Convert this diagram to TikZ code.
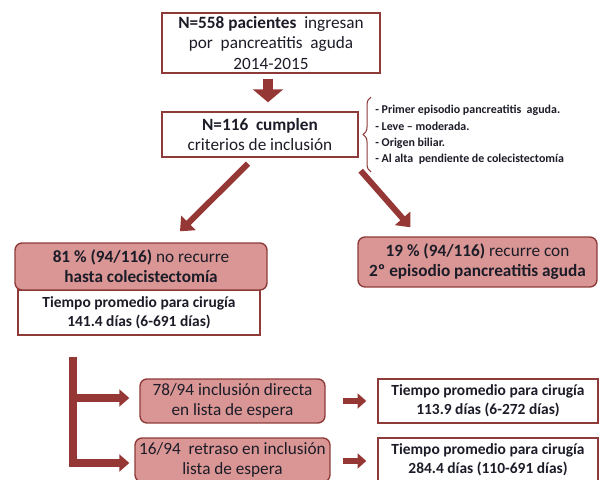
\documentclass[tikz,border=0pt]{standalone}
\usepackage{fontspec}
\setmainfont{Carlito}
\usetikzlibrary{arrows.meta,calc,decorations.pathreplacing}
\definecolor{rojo}{HTML}{953735}
\definecolor{borde}{HTML}{8E3A38}
\definecolor{rosa}{HTML}{D99694}
\definecolor{tinta}{HTML}{1C1C28}

\begin{document}
\begin{tikzpicture}[x=0.02cm, y=-0.02cm, text=tinta, font=\fontsize{9.8}{11.4}\selectfont]
        \tikzstyle{caja}=[draw=borde, line width=0.8pt, fill=white, align=center, inner sep=0pt]
        \tikzstyle{cajarosa}=[caja, fill=rosa, rounded corners=4pt]
        \tikzstyle{tiempo}=[caja, font=\fontsize{8.8}{10.6}\selectfont\bfseries]
        \tikzstyle{flechagruesa}=[rojo, line width=5.7pt, -{Triangle[width=17pt,length=7.4pt]}]
        \tikzstyle{flecha}=[rojo, line width=3.4pt, -{Triangle[width=11.3pt,length=6.8pt]}]
        \tikzstyle{rama}=[rojo, line width=5pt, -{Triangle[width=9.6pt,length=5.7pt]}]
        \tikzstyle{flechita}=[rojo, line width=3.6pt, -{Triangle[width=8.5pt,length=5pt]}]
        \tikzstyle{llave}=[draw=borde, line width=0.6pt, decorate, decoration={brace, amplitude=4.5pt}]

        \useasboundingbox (0,0) rectangle (600,480);

            % Cajas
            \node[caja, minimum width=4.36cm, minimum height=1.2cm] (ingreso) at (271,43)
                {\textbf{N=558 pacientes}\ \ ingresan\\por\ \ pancreatitis\ \ aguda\\2014-2015};
            \node[caja, minimum width=3.92cm, minimum height=0.9cm] (criterios) at (260,134.5)
                {\textbf{N=116\ \ cumplen}\\criterios de inclusión};
            \node[anchor=west, align=left, inner sep=0pt, font=\fontsize{6.8}{9.3}\selectfont\bfseries] (lista) at (375,135)
                {- Primer episodio pancreatitis\ \ aguda.\\- Leve – moderada.\\- Origen biliar.\\- Al alta\ \ pendiente de colecistectomía};

            \node[tiempo, minimum width=4.84cm, minimum height=0.9cm] (tiempo1) at (139,312.5)
                {Tiempo promedio para cirugía\\141.4 días (6-691 días)};
            \node[cajarosa, minimum width=5.04cm, minimum height=0.94cm] (norecurre) at (141,266.5)
                {\textbf{81 \% (94/116)} no recurre\\\textbf{hasta colecistectomía}};
            \node[cajarosa, minimum width=4.78cm, minimum height=1.0cm] (recurre) at (477.5,262)
                {\textbf{19 \% (94/116)} recurre con\\\textbf{2º episodio pancreatitis aguda}};

            \node[cajarosa, minimum width=3.7cm, minimum height=0.88cm] (directa) at (232.5,401)
                {78/94 inclusión directa\\en lista de espera};
            \node[cajarosa, minimum width=3.9cm, minimum height=0.88cm] (retraso) at (232.5,460)
                {16/94~~retraso en inclusión\\lista de espera};
            \node[tiempo, minimum width=4.4cm, minimum height=0.88cm] (tiempo2) at (488,401)
                {Tiempo promedio para cirugía\\113.9 días (6-272 días)};
            \node[tiempo, minimum width=4.4cm, minimum height=0.88cm] (tiempo3) at (488,460)
                {Tiempo promedio para cirugía\\284.4 días (110-691 días)};
            \coordinate (rama) at (73,357);

            % Flechas
            \draw[llave] ($(lista.west)+(-4,37)$) -- ($(lista.west)+(-4,-38)$);
            \draw[flechagruesa] ($(ingreso.south)+(-3,5)$) -- ($(criterios.north)+(8,-9)$);
            \draw[flecha] ($(criterios.south)+(-12,6)$) -- ($(norecurre.north)+(39,-11)$);
            \draw[flecha] ($(criterios.south east)+(2,13)$) -- ($(recurre.north)+(-67,-9)$);
            \draw[rama] (rama) |- ($(directa.west)+(-10,-3)$);
            \draw[rama] (rama) |- ($(retraso.west)+(-5,3)$);
            \draw[flechita] ($(directa.east)+(17,0)$) -- ($(tiempo2.west)+(-11,0)$);
            \draw[flechita] ($(retraso.east)+(12,1)$) -- ($(tiempo3.west)+(-11,1)$);
\end{tikzpicture}
\end{document}
